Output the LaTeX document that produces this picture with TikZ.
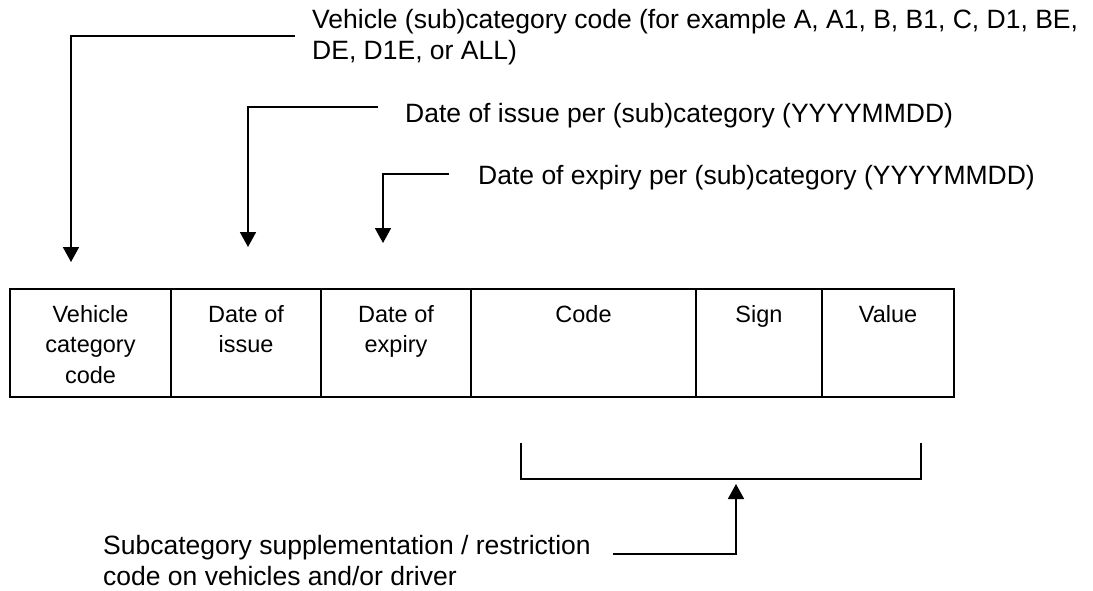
\documentclass[tikz,border=0pt]{standalone}
\usepackage{fontspec}
\setmainfont{Liberation Sans}
\usetikzlibrary{positioning, arrows.meta}
\tikzset{>={Triangle[width=16pt,length=15pt]}}
\newcommand{\celltext}[1]{\begin{tabular}[t]{@{}c@{}}#1\end{tabular}}
\tikzset{
  cell/.style={draw, line width=2.6pt, outer sep=0pt, inner sep=0pt,
    minimum height=108pt, text height=33pt, text depth=75pt,
    font=\fontsize{23.5}{30.5}\selectfont},
  lead/.style={line width=1.8pt},
  note/.style={anchor=base west, align=left, inner sep=0pt,
    font=\fontsize{26.5}{30.5}\selectfont}
}

\begin{document}
\begin{tikzpicture}[x=1pt, y=-1pt]
\useasboundingbox (0,0) rectangle (1093,590);

\node[cell, minimum width=161pt, anchor=north west] (veh) at (10,289) {\celltext{Vehicle\\category\\code}};
\node[cell, minimum width=150pt, right=0pt of veh] (iss) {\celltext{Date of\\issue}};
\node[cell, minimum width=150pt, right=0pt of iss] (exp) {\celltext{Date of\\expiry}};
\node[cell, minimum width=225pt, right=0pt of exp] (code) {\celltext{Code}};
\node[cell, minimum width=126pt, right=0pt of code] (sign) {\celltext{Sign}};
\node[cell, minimum width=132pt, right=0pt of sign] (val) {\celltext{Value}};

% multi-line notes sit on their last line
\node[note] (catlbl) at (312,59) {Vehicle (sub)category code (for example A, A1, B, B1, C, D1, BE,\\DE, D1E, or ALL)};
\node[note] (isslbl) at (405,122) {Date of issue per (sub)category (YYYYMMDD)};
\node[note] (explbl) at (478,184) {Date of expiry per (sub)category (YYYYMMDD)};
\node[note] (sublbl) at (103,585) {Subcategory supplementation / restriction\\code on vehicles and/or driver};

\coordinate (catfrom) at (295,36);
\coordinate (catto) at (71,262);
\coordinate (issfrom) at (378,107);
\coordinate (issto) at (248,247);
\coordinate (expfrom) at (449,174);
\coordinate (expto) at (383,243);
\coordinate (brl) at (521,443);
\coordinate (brr) at (921,443);
\coordinate (subfrom) at (613,554);
\coordinate (subto) at (736,484);

\draw[lead,->] (catfrom) -| (catto);
\draw[lead,->] (issfrom) -| (issto);
\draw[lead,->] (expfrom) -| (expto);
\draw[lead] (brl) -- ++(0,36) -| (brr);
\draw[lead,->] (subfrom) -| (subto);

\end{tikzpicture}
\end{document}
